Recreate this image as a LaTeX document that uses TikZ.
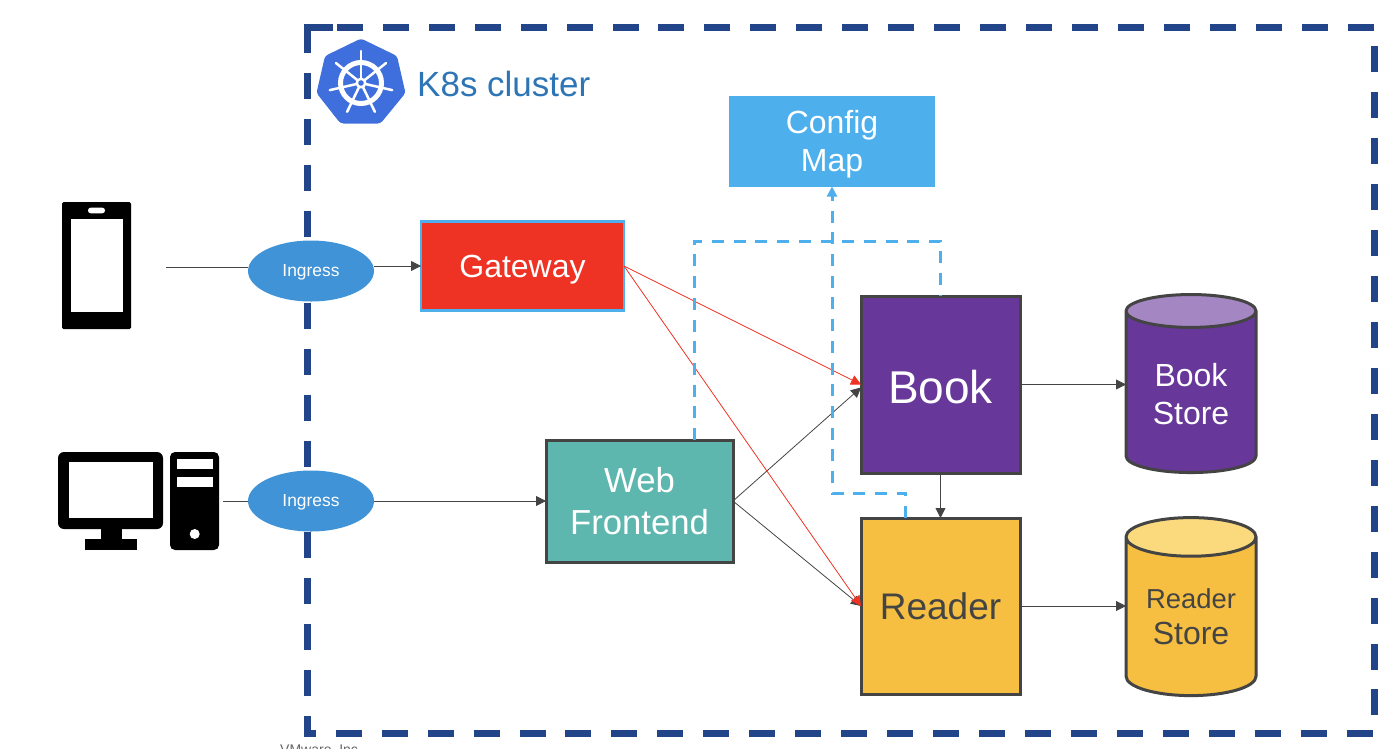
\documentclass[tikz,border=0pt]{standalone}
\usepackage{fontspec}
\setmainfont{Liberation Sans}
\usetikzlibrary{arrows.meta,shapes.geometric}
\definecolor{clusterblue}{HTML}{224488}
\definecolor{k8sblue}{HTML}{3F6FDC}
\definecolor{k8stext}{HTML}{2E75B6}
\definecolor{cfgblue}{HTML}{4DAFEC}
\definecolor{ingressblue}{HTML}{3F93D6}
\definecolor{gatewayred}{HTML}{EE3324}
\definecolor{webgreen}{HTML}{5DB7AE}
\definecolor{bookpurple}{HTML}{67379A}
\definecolor{booktop}{HTML}{A386C2}
\definecolor{readeryellow}{HTML}{F6BF41}
\definecolor{readertop}{HTML}{FADA7D}
\definecolor{edgegray}{HTML}{444444}
\tikzset{
    service/.style={draw=edgegray,line width=3pt,inner sep=0pt,outer sep=0pt,align=center,text=white},
    store/.style={cylinder,shape border rotate=90,aspect=.43,draw=edgegray,line width=3pt,inner sep=0pt,outer sep=0pt,
        minimum width=130pt,minimum height=178pt,align=center,cylinder uses custom fill},
    ingress/.style={ellipse,fill=ingressblue,minimum width=126pt,minimum height=61pt,inner sep=0pt,outer sep=0pt,
        text=white,text depth=0pt,font=\fontsize{17.4}{20}\selectfont},
    link/.style={->,line width=.8pt,draw=edgegray},
    redlink/.style={->,line width=.8pt,draw=gatewayred},
    cfglink/.style={line width=3pt,draw=cfgblue,dash pattern=on 12pt off 9.7pt},
}
\begin{document}
\begin{tikzpicture}[x=1pt,y=-1pt,>={Triangle[length=10pt,width=10pt]}]
\useasboundingbox (0,0) rectangle (1400,748);
% cluster
\draw[clusterblue,line width=7pt,dash pattern=on 26pt off 19.95pt] (307,27) rectangle (1374.5,733.5);
\draw[clusterblue,line width=7pt] (307,37)--(307,27)--(333,27);
\node[anchor=base west,text=gray!80!black,font=\fontsize{14}{16}\selectfont,inner sep=0pt] (vendor) at (280,754) {VMware, Inc};
% logo
\fill[k8sblue,rounded corners=3pt] (361,38.5)--(397,56)--(405.5,93)--(380.5,123.5)--(340.5,123.5)--(316.5,93)--(325,56)--cycle;
\begin{scope}[shift={(361,83)}]
\draw[white,line width=5pt] (0,0) circle (20.5);
\foreach \ang in {0,...,6}
{
    \draw[white,line width=2.5pt,line cap=round] (0,0)--(270+\ang*360/7:32);
}
\fill[white] (0,0) circle (5.5);
\fill[k8sblue] (0,0) circle (2.8);
\end{scope}
\node[anchor=base west,text=k8stext,font=\fontsize{35}{40}\selectfont,inner sep=0pt] (title) at (417,96) {K8s cluster};
% phone
\fill[black,rounded corners=1.5pt] (62,202) rectangle (131,329);
\fill[white] (70.5,219) rectangle (122.5,311.5);
\fill[white,rounded corners=2.7pt] (88,207.7) rectangle (105,213.3);
% desktop
\fill[black,rounded corners=6pt] (58,452) rectangle (163,529);
\fill[white] (69,462) rectangle (153,518);
\fill[black] (100.7,528) rectangle (121.7,540);
\fill[black] (84.7,539) rectangle (137.3,550);
\fill[black,rounded corners=5pt] (170,452) rectangle (219,550);
\foreach \y in {459,476.7}
{
    \fill[white] (177,\y) rectangle (212.7,\y+10);
}
\fill[white] (194.7,534) circle (5);
% services
\node[ingress] (ingressA) at (311,271) {Ingress};
\node[ingress] (ingressB) at (311,501) {Ingress};
\node[service,draw=cfgblue,fill=gatewayred,line width=2.5pt,minimum width=203pt,minimum height=89pt,text depth=0pt,font=\fontsize{32}{38}\selectfont] (gateway) at (522.5,266) {Gateway};
\node[service,draw=none,fill=cfgblue,minimum width=206pt,minimum height=91pt,text depth=0pt,font=\fontsize{32}{38}\selectfont] (config) at (832,141) {Config\\Map};
\node[service,fill=webgreen,minimum width=187pt,minimum height=122pt,font=\fontsize{34.7}{42}\selectfont] (web) at (639.5,501) {Web\\Frontend};
\node[service,fill=bookpurple,minimum width=159pt,minimum height=177pt,font=\fontsize{46}{52}\selectfont] (book) at (940.5,384.5) {\raisebox{-19pt}[0pt][0pt]{Book}};
\node[service,fill=readeryellow,text=edgegray,minimum width=159pt,minimum height=176pt,font=\fontsize{37}{42}\selectfont] (reader) at (940.5,606) {Reader};
\node[store,cylinder body fill=bookpurple,cylinder end fill=booktop,text=white,font=\fontsize{32}{38}\selectfont] (bookstore) at (1191,392.5) {\rule{0pt}{27pt}Book\\Store};
\node[store,cylinder body fill=readeryellow,cylinder end fill=readertop,text=edgegray,font=\fontsize{32}{36}\selectfont] (readerstore) at (1191,617) {{\fontsize{27.4}{36}\selectfont Reader}\\Store};
% connectors
\coordinate (phoneout) at (166,267);
\coordinate (pcout) at (223,501);
\draw[link,-] (phoneout)--(ingressA.west |- phoneout);
\draw[link] (ingressA.east |- gateway.west)--(gateway.west);
\draw[link,-] (pcout)--(ingressB.west);
\draw[link] (ingressB.east)--(web.west);
\draw[link] (web.east)--([yshift=-3pt]book.west);
\draw[link] (web.east)--(reader.west);
\draw[redlink] (gateway.east)--(book.west);
\draw[redlink] (gateway.east)--(reader.west);
\draw[link] (book.south)--(reader.north);
\draw[link] (book.east)--(bookstore.west |- book.east);
\draw[link] (reader.east)--(readerstore.west |- reader.east);
\coordinate (webtap) at (694,440);
\coordinate (readertap) at (905.5,518);
\draw[cfglink] (webtap) |- (book.north |- 0,241)--(book.north);
\draw[cfglink,->] (readertap) |- (config.south |- 0,493)--(config.south);
\end{tikzpicture}
\end{document}
